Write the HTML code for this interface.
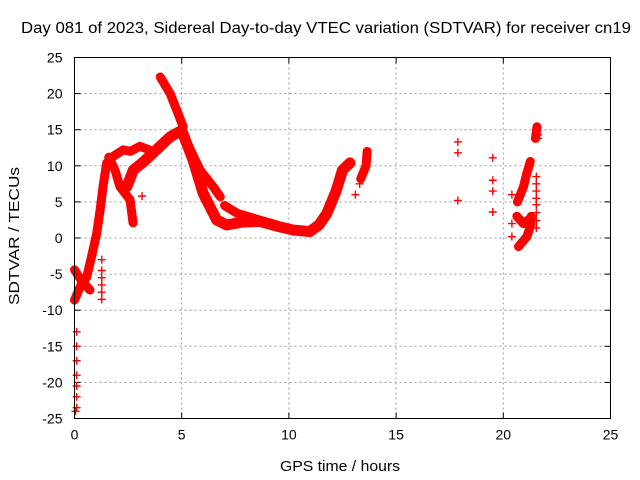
<!DOCTYPE html>
<html><head><meta charset="utf-8"><style>
body{margin:0;background:#fff;}
svg{display:block;font-family:"Liberation Sans",sans-serif;}
</style></head><body>
<svg id="chart" width="640" height="480" viewBox="0 0 640 480" xmlns="http://www.w3.org/2000/svg">
<rect width="640" height="480" fill="#fff"/>
<text x="326" y="33" font-size="15.5" text-anchor="middle" textLength="610" lengthAdjust="spacingAndGlyphs">Day 081 of 2023, Sidereal Day-to-day VTEC variation (SDTVAR) for receiver cn19</text>
<g id="grid"></g>
<g id="ticks"></g>
<g id="marks"></g>
<rect x="74.5" y="57.5" width="536" height="361" fill="none" stroke="#000" stroke-width="1"/>
<text transform="translate(19,236) rotate(-90)" font-size="15" text-anchor="middle" textLength="138" lengthAdjust="spacingAndGlyphs">SDTVAR / TECUs</text>
<text x="340" y="471" font-size="15" text-anchor="middle" textLength="120" lengthAdjust="spacingAndGlyphs">GPS time / hours</text>
</svg>
<script>
const xTicks=[0,5,10,15,20,25];
const yTicks=[-25,-20,-15,-10,-5,0,5,10,15,20,25];
// dense tracks: [time, value]
const trackLeft=[[0,-8.6],[0.3,-6.5],[0.57,-5.4],[0.8,-2.5],[1.04,0.7],[1.2,4],[1.33,7.1],[1.5,10.4],[1.8,11.3],[2.27,12.2],[2.6,12],[3.05,12.7],[3.5,12.2]];
const trackX=[[0,-4.4],[0.3,-5.8],[0.72,-7.2]];
const trackBranch=[[1.6,11.2],[1.89,9.4],[2.12,7.1],[2.59,5.3],[2.73,2.1]];
const trackDiag=[[2.44,7.1],[2.74,9.4],[3.2,10.5],[3.67,11.8],[4.46,14.0],[5.0,14.9]];
const trackTop=[[4.0,22.3],[4.46,20],[4.77,17.7],[5.07,15.4]];
const trackMain=[[5.0,14.9],[5.53,10.8],[6.0,6.2],[6.63,2.5],[7.1,1.8],[7.8,2.2],[8.66,2.3],[9.5,1.6],[10.2,1.1],[10.98,0.9],[11.4,1.8],[11.77,3.4],[12.2,6.5],[12.5,9.4],[12.85,10.4]];
const trackUpperMain=[[5.2,13.5],[5.86,9.4],[6.47,7.1],[6.8,5.7]];
const trackMid=[[7.0,4.5],[7.6,3.4],[8.4,2.7],[9.2,2.0]];
const trackR13=[[13.35,8.2],[13.6,10],[13.65,12]];
const trackR21a=[[20.71,-1.2],[21.1,0.2],[21.26,1.6],[21.3,3.0]];
const trackR21v=[[20.63,3.0],[20.94,2.0],[21.25,2.7]];
const trackR21b=[[20.66,5.0],[20.94,7.1],[21.1,9.0],[21.26,10.6]];
const trackR21c=[[21.5,13.8],[21.57,15.4]];
const tracks=[trackLeft,trackX,trackBranch,trackDiag,trackTop,trackMain,trackUpperMain,trackMid,trackR13,trackR21a,trackR21v,trackR21b,trackR21c];
// sparse points
const sparseT=[0.1,0.1,0.1,0.1,0.1,0.1,0.1,0.05,1.27,1.27,1.27,1.27,1.27,1.27,3.15,13.1,13.3,17.88,17.88,17.88,19.51,19.51,19.51,19.51,20.4,20.4,20.4,21.54,21.54,21.54,21.54,21.54,21.54,21.54,21.54,21.62,21.62];
const sparseV=[-13,-15,-17,-19,-20.5,-22,-23.5,-24,-3,-4.5,-5.5,-6.5,-7.5,-8.5,5.8,6,7.5,13.3,11.8,5.2,11.1,8.0,6.5,3.6,6.0,2.0,0.2,8.5,7.5,6.5,5.5,4.6,3.5,2.4,1.4,14.3,13.8];

const NS="http://www.w3.org/2000/svg";
const X0=74.5,X1=610.5,Y0=418.5,Y1=57.5;
const sx=t=>X0+(t-0)/(25-0)*(X1-X0);
const sy=v=>Y0-(v+25)/50*(Y0-Y1);
const grid=document.getElementById('grid'),ticks=document.getElementById('ticks'),marks=document.getElementById('marks');
function mk(tag,attrs,parent){const e=document.createElementNS(NS,tag);for(const k in attrs)e.setAttribute(k,attrs[k]);parent.appendChild(e);return e;}
xTicks.forEach(t=>{
  const x=sx(t);
  if(t>0&&t<25){const g=mk('line',{x1:x,x2:x,y1:Y1,y2:Y0,stroke:'#999','stroke-dasharray':'2,3'},grid);
  
  }
  const tl=mk('text',{x:x,y:Y0+21,'font-size':14,'text-anchor':'middle'},ticks);tl.textContent=t;
  
  
  mk('line',{x1:x,x2:x,y1:Y0,y2:Y0-6,stroke:'#000'},ticks);
  mk('line',{x1:x,x2:x,y1:Y1,y2:Y1+6,stroke:'#000'},ticks);
});
yTicks.forEach(v=>{
  const y=sy(v);
  if(v>-25&&v<25){const g=mk('line',{x1:X0,x2:X1,y1:y,y2:y,stroke:'#999','stroke-dasharray':'2,3'},grid);
  
  }
  const tl=mk('text',{x:X0-12,y:y+5,'font-size':14,'text-anchor':'end'},ticks);tl.textContent=v;
  
  
  mk('line',{x1:X0,x2:X0+6,y1:y,y2:y,stroke:'#000'},ticks);
  mk('line',{x1:X1,x2:X1-6,y1:y,y2:y,stroke:'#000'},ticks);
});
function plus(t,v){
  const x=sx(t),y=sy(v);
  const p=mk('path',{d:`M${x-4},${y}H${x+4}M${x},${y-4}V${y+4}`,stroke:'#f00','stroke-width':1.4,fill:'none'},marks);
  
  
}
tracks.forEach((tr,i)=>{
  const w=(tr===trackMain||tr===trackDiag)?11:9;
  const pl=mk('polyline',{points:tr.map(p=>sx(p[0])+','+sy(p[1])).join(' '),fill:'none',stroke:'#f00','stroke-width':w,'stroke-linejoin':'round','stroke-linecap':'round'},marks);
  
  
  tr.forEach(p=>plus(p[0],p[1]));
});
sparseT.forEach((t,i)=>plus(t,sparseV[i]));
</script>
</body></html>
